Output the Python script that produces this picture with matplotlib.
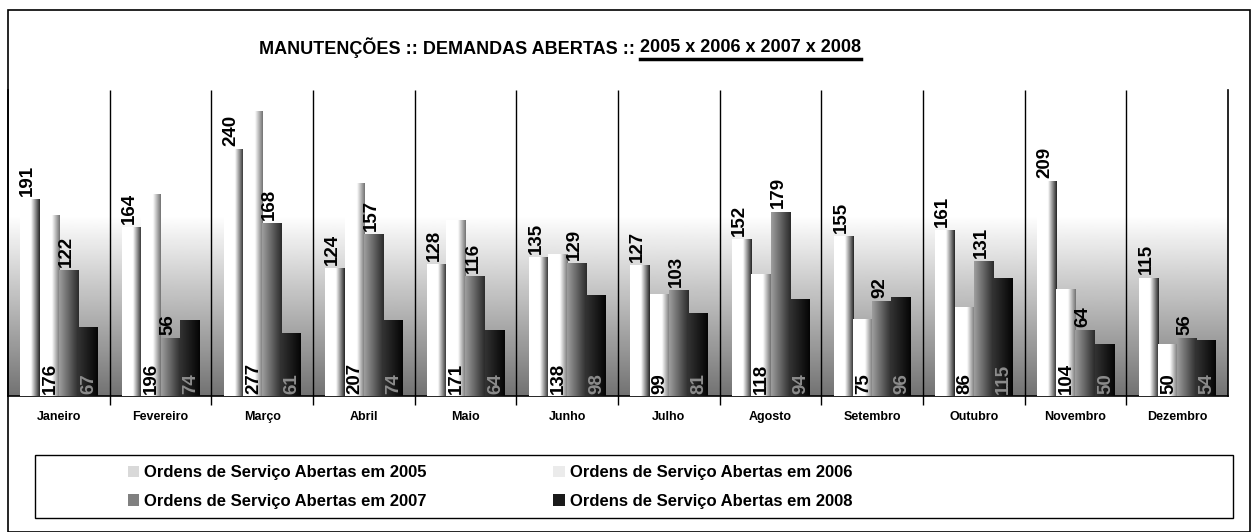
import numpy as np
import matplotlib.pyplot as plt
from matplotlib.patches import Rectangle
from matplotlib.lines import Line2D

plt.rcParams["font.family"] = ["Liberation Sans", "DejaVu Sans"]

meses = ["Janeiro", "Fevereiro", "Março", "Abril", "Maio", "Junho", "Julho",
         "Agosto", "Setembro", "Outubro", "Novembro", "Dezembro"]
os_2005 = [191, 164, 240, 124, 128, 135, 127, 152, 155, 161, 209, 115]
os_2006 = [176, 196, 277, 207, 171, 138, 99, 118, 75, 86, 104, 50]
os_2007 = [122, 56, 168, 157, 116, 129, 103, 179, 92, 131, 64, 56]
os_2008 = [67, 74, 61, 74, 64, 98, 81, 94, 96, 115, 50, 54]
anos = ["2005", "2006", "2007", "2008"]

fig = plt.figure(figsize=(12.54, 5.32), dpi=100)
ax = fig.add_axes([8 / 1254, 136 / 532, 1220 / 1254, 306 / 532])

x = np.arange(len(meses))
largura = 0.19
desloc = [-0.285, -0.095, 0.095, 0.285]
series = [os_2005, os_2006, os_2007, os_2008]
cores = ["0.85", "0.92", "0.5", "0.1"]

# fundo em degrade (branco em cima, cinza embaixo)
ymax = 297
fy = np.linspace(0, ymax, 300)
fundo = np.clip(0.45 + 0.55 * fy / 175, 0, 1).reshape(-1, 1)
ax.imshow(fundo, cmap="gray", vmin=0, vmax=1, origin="lower", aspect="auto",
          extent=(-0.5, 11.5, 0, ymax), zorder=0)

# degrade horizontal de cada serie
gx = np.linspace(0, 1, 60)
degrades = [
    np.where(gx < 0.55, 1.0, 1.0 - (gx - 0.55) / 0.45 * 0.85),
    np.where(gx < 0.6, 1.0, 1.0 - (gx - 0.6) / 0.4 * 0.55),
    0.62 - 0.45 * gx,
    0.2 - 0.18 * gx,
]

barras = []
for i, vals in enumerate(series):
    b = ax.bar(x + desloc[i], vals, largura, color=cores[i], label="Ordens de Serviço Abertas em " + anos[i], zorder=2)
    barras.append(b)
    for p in b.patches:
        im = ax.imshow(degrades[i].reshape(1, -1), cmap="gray", vmin=0, vmax=1, aspect="auto",
                       extent=(p.get_x(), p.get_x() + p.get_width(), 0, p.get_height()), zorder=3)
        im.set_clip_path(p)

# rotulos de valores
for i, vals in enumerate(series):
    for xi, v in zip(x, vals):
        if i in (0, 2):
            ax.text(xi + desloc[i] - 0.02, v + 3, str(v), rotation=90, ha="center", va="bottom",
                    fontsize=13.5, fontweight="bold", color="black", zorder=5)
        else:
            ax.text(xi + desloc[i] + 0.01, 2, str(v), rotation=90, ha="center", va="bottom",
                    fontsize=13.5, fontweight="bold", color="black" if i == 1 else "0.55", zorder=5)

ax.set_xlim(-0.5, 11.5)
ax.set_ylim(0, ymax)
ax.vlines(np.arange(0.5, 11.5, 1), -9, ymax, color="black", lw=1, zorder=4, clip_on=False)
ax.set_xticks(x)
ax.set_xticklabels(meses, fontsize=9, fontweight="bold")
ax.tick_params(axis="x", length=0, pad=11)
ax.set_yticks([])
ax.spines["top"].set_visible(False)
for s in ["left", "bottom", "right"]:
    ax.spines[s].set_linewidth(1.2)

# titulo com parte sublinhada
t1 = fig.text(0, 1 - 48 / 532, "MANUTENÇÕES :: DEMANDAS ABERTAS :: ", fontsize=13, fontweight="bold",
              va="center", ha="left")
t2 = fig.text(0, 1 - 48 / 532, "2005 x 2006 x 2007 x 2008", fontsize=13, fontweight="bold",
              va="center", ha="left")
r = fig.canvas.get_renderer()
w1 = t1.get_window_extent(r).width / 1254
w2 = t2.get_window_extent(r).width / 1254
x0 = 560 / 1254 - (w1 + w2) / 2
t1.set_x(x0)
t2.set_x(x0 + w1)
fig.add_artist(Line2D([x0 + w1, x0 + w1 + w2], [1 - 59 / 532] * 2, color="black", lw=2.5))

# legenda
ordem = [barras[0], barras[2], barras[1], barras[3]]
fig.legend(ordem, [b.get_label() for b in ordem], ncol=2, frameon=False, loc="center",
           bbox_to_anchor=(490 / 1254, 1 - 487 / 532), handlelength=0.7,
           handleheight=0.7, handletextpad=0.3, columnspacing=7.6, labelspacing=0.8,
           prop={"size": 12, "weight": "bold"})
fig.add_artist(Rectangle((35 / 1254, 14 / 532), 1198 / 1254, 63 / 532, fill=False, ec="black", lw=1,
                         transform=fig.transFigure))

# moldura externa
fig.add_artist(Rectangle((8 / 1254, 0), 1242 / 1254, 1 - 10 / 532, fill=False, ec="black", lw=1.2,
                         transform=fig.transFigure))

fig.savefig("out.png", dpi=100)
